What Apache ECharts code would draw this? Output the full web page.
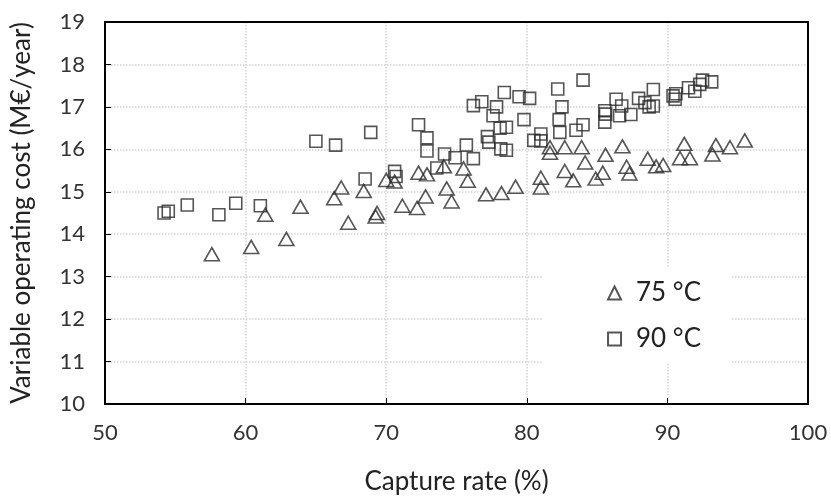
<!DOCTYPE html>
<html>
<head>
<meta charset="utf-8">
<title>Variable operating cost vs capture rate</title>
<script src="https://cdn.jsdelivr.net/npm/echarts@6/dist/echarts.min.js"></script>
<style>
  html, body { margin: 0; padding: 0; background: #ffffff; }
  #chart { width: 831px; height: 500px; }
</style>
</head>
<body>
<div id="chart"></div>
<script>
// 75 °C points: [capture rate %, cost M€/year]
var data75 = [
  [57.6, 13.53], [60.4, 13.70], [62.9, 13.89], [61.4, 14.46], [63.9, 14.65],
  [66.3, 14.85], [66.8, 15.10], [67.3, 14.27], [68.4, 15.02], [69.25, 14.42],
  [69.35, 14.50], [70.0, 15.28], [70.6, 15.24], [71.15, 14.67], [72.2, 14.62],
  [72.8, 14.89], [72.3, 15.45], [72.9, 15.41], [74.1, 15.60], [74.3, 15.08],
  [74.65, 14.77], [75.5, 15.55], [75.8, 15.26], [77.1, 14.94], [78.2, 14.97],
  [79.2, 15.12], [81.0, 15.33], [81.0, 15.10], [81.65, 16.05], [81.65, 15.92],
  [82.7, 16.05], [82.7, 15.49], [83.3, 15.27], [83.9, 16.05], [84.15, 15.69],
  [84.9, 15.31], [85.4, 15.45], [85.6, 15.87], [86.8, 16.07], [87.1, 15.59],
  [87.3, 15.43], [88.6, 15.78], [89.2, 15.60], [89.7, 15.63], [90.9, 15.79],
  [91.2, 16.13], [91.6, 15.79], [93.2, 15.88], [93.45, 16.10], [94.45, 16.05],
  [95.5, 16.21]
];

// 90 °C points
var data90 = [
  [54.2, 14.50], [54.5, 14.54], [55.85, 14.69], [58.1, 14.46], [59.3, 14.73],
  [61.05, 14.67], [65.0, 16.19], [66.4, 16.10], [68.5, 15.30], [68.9, 16.40],
  [70.6, 15.48], [70.7, 15.36], [72.3, 16.58], [72.9, 16.27], [72.9, 15.96],
  [73.6, 15.56], [74.15, 15.89], [74.9, 15.80], [75.7, 16.10], [76.2, 15.78],
  [76.2, 17.03], [76.8, 17.12], [77.2, 16.30], [77.3, 16.17], [77.6, 16.79],
  [77.85, 17.00], [78.1, 16.50], [78.55, 16.52], [78.4, 17.34], [78.15, 16.01],
  [78.55, 15.98], [79.45, 17.24], [79.8, 16.70], [80.2, 17.20], [80.5, 16.21],
  [81.0, 16.36], [81.0, 16.20], [82.2, 17.42], [82.5, 17.00], [82.3, 16.70],
  [82.35, 16.40], [83.5, 16.45], [84.0, 16.58], [84.0, 17.63], [85.55, 16.91],
  [85.55, 16.64], [85.6, 16.83], [86.35, 17.18], [86.75, 17.02], [86.6, 16.79],
  [87.4, 16.82], [87.95, 17.20], [88.4, 17.10], [89.0, 17.41], [88.7, 17.00],
  [89.0, 17.02], [90.4, 17.26], [90.6, 17.31], [90.55, 17.18], [91.5, 17.45],
  [91.95, 17.37], [92.3, 17.53], [92.5, 17.63], [93.15, 17.59]
];

var seriesNames = ['75 °C', '90 °C'];
var xRange = [50, 100, 10];   // min, max, interval
var yRange = [10, 19, 1];

var fontName = 'Lato';
var markColor = '#2a2a2a';
var gridLine = { show: true, lineStyle: { color: '#d4d4d4', type: 'dotted', width: 1.5 } };
var blackLine = { show: true, onZero: false, lineStyle: { color: '#000000', width: 2 } };

var myChart = echarts.init(document.getElementById('chart'));

var option = {
  animation: false,
  backgroundColor: '#ffffff',
  textStyle: { fontFamily: fontName },
  grid: {
    left: 105,
    right: 23,
    top: 22,
    bottom: 92
  },
  legend: {
    orient: 'vertical',
    right: 100,
    top: 268,
    backgroundColor: '#ffffff',
    padding: [12, 30, 12, 64],
    itemGap: 20,
    itemWidth: 13,
    itemHeight: 13,
    textStyle: { fontSize: 26, color: '#222222', fontFamily: fontName, padding: [0, 0, 0, 10] },
    data: seriesNames
  },
  xAxis: [
    {
      type: 'value',
      min: xRange[0],
      max: xRange[1],
      interval: xRange[2],
      name: 'Capture rate (%)',
      nameLocation: 'middle',
      nameGap: 65,
      nameTextStyle: { fontSize: 26, color: '#222222' },
      axisLine: blackLine,
      axisTick: { inside: true, length: 6, lineStyle: { color: '#000000', width: 1 } },
      axisLabel: { fontSize: 22, color: '#333333', margin: 18 },
      splitLine: gridLine
    },
    {
      // top border of the plot box
      type: 'value',
      position: 'top',
      min: xRange[0],
      max: xRange[1],
      interval: xRange[2],
      axisLine: blackLine,
      axisTick: { show: false },
      axisLabel: { show: false },
      splitLine: { show: false }
    }
  ],
  yAxis: [
    {
      type: 'value',
      min: yRange[0],
      max: yRange[1],
      interval: yRange[2],
      name: 'Variable operating cost (M€/year)',
      nameLocation: 'middle',
      nameGap: 70,
      nameTextStyle: { fontSize: 26, color: '#222222' },
      axisLine: blackLine,
      axisTick: { inside: true, length: 6, lineStyle: { color: '#000000', width: 1 } },
      axisLabel: { fontSize: 22, color: '#333333', margin: 20 },
      splitLine: gridLine
    },
    {
      // right border of the plot box
      type: 'value',
      position: 'right',
      min: yRange[0],
      max: yRange[1],
      interval: yRange[2],
      axisLine: blackLine,
      axisTick: { show: false },
      axisLabel: { show: false },
      splitLine: { show: false }
    }
  ],
  series: [
    {
      name: seriesNames[0],
      type: 'scatter',
      symbol: 'triangle',
      symbolSize: [15, 13],
      itemStyle: { color: 'rgba(255,255,255,0)', borderColor: markColor, borderWidth: 1.6 },
      data: data75
    },
    {
      name: seriesNames[1],
      type: 'scatter',
      symbol: 'rect',
      symbolSize: 12,
      itemStyle: { color: 'rgba(255,255,255,0)', borderColor: markColor, borderWidth: 1.6 },
      data: data90
    }
  ]
};

myChart.setOption(option);
</script>
</body>
</html>
